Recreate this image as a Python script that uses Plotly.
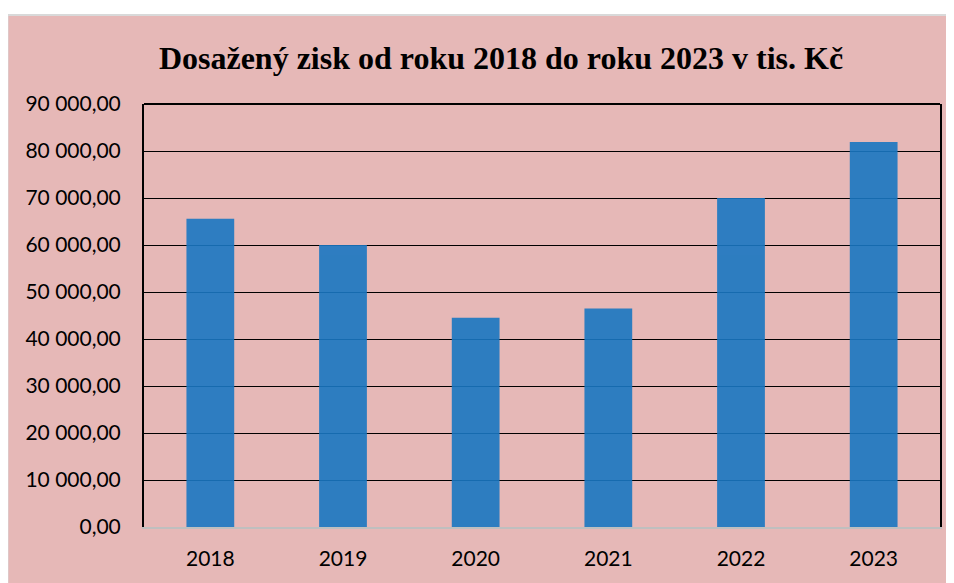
import plotly.graph_objects as go

# ── Data ─────────────────────────────────────────────────────────────────────
YEARS  = ["2018", "2019", "2020", "2021", "2022", "2023"]
PROFIT = [65600, 60000, 44500, 46500, 70000, 81900]
Y_TICKS = [0, 10000, 20000, 30000, 40000, 50000, 60000, 70000, 80000, 90000]
Y_LABELS = ["0,00", "10 000,00", "20 000,00", "30 000,00", "40 000,00",
            "50 000,00", "60 000,00", "70 000,00", "80 000,00", "90 000,00"]
TITLE = "Dosažený zisk od roku 2018 do roku 2023 v tis. Kč"

# ── Colours ──────────────────────────────────────────────────────────────────
PINK = "#e6b8b7"
BAR  = "#1977c2"
TEXT = "#000000"

fig = go.Figure(
    go.Bar(
        x=YEARS,
        y=PROFIT,
        marker_color=BAR,
        marker_line_width=0,
        opacity=0.9,
        hoverinfo="skip",
    )
)

# pink chart area with a light grey frame
fig.add_shape(
    type="rect", xref="paper", yref="paper",
    x0=-0.1715, x1=1.03, y0=-0.2, y1=1.2104,
    fillcolor=PINK, line=dict(color="#d9d9d9", width=2),
    layer="below",
)
# black top edge of the plot area
fig.add_shape(
    type="line", xref="paper", yref="paper",
    x0=0, x1=1, y0=1, y1=1,
    line=dict(color="#000000", width=2),
)

fig.update_layout(
    width=946,
    height=575,
    paper_bgcolor="white",
    plot_bgcolor=PINK,
    margin=dict(l=136, r=14, t=96, b=56),
    bargap=0.64,
    showlegend=False,
    title=dict(
        text=f"<b>{TITLE}</b>",
        font=dict(family="Liberation Serif", size=32, color=TEXT),
        xref="paper", x=0.4485, xanchor="center",
        y=0.914, yanchor="middle",
    ),
    font=dict(family="Lato", size=21, color=TEXT),
    xaxis=dict(
        type="category",
        showgrid=False,
        zeroline=False,
        showline=True,
        linecolor="#bfbfbf",
        linewidth=2,
        ticks="",
        ticklabelstandoff=12,
    ),
    yaxis=dict(
        range=[0, 90000],
        tickvals=Y_TICKS,
        ticktext=Y_LABELS,
        showgrid=True,
        gridcolor="#000000",
        gridwidth=1.4,
        zeroline=False,
        showline=True,
        linecolor="#000000",
        linewidth=2,
        mirror=True,
        ticks="",
        ticklabelstandoff=17,
    ),
)

fig.write_html("out.html")
